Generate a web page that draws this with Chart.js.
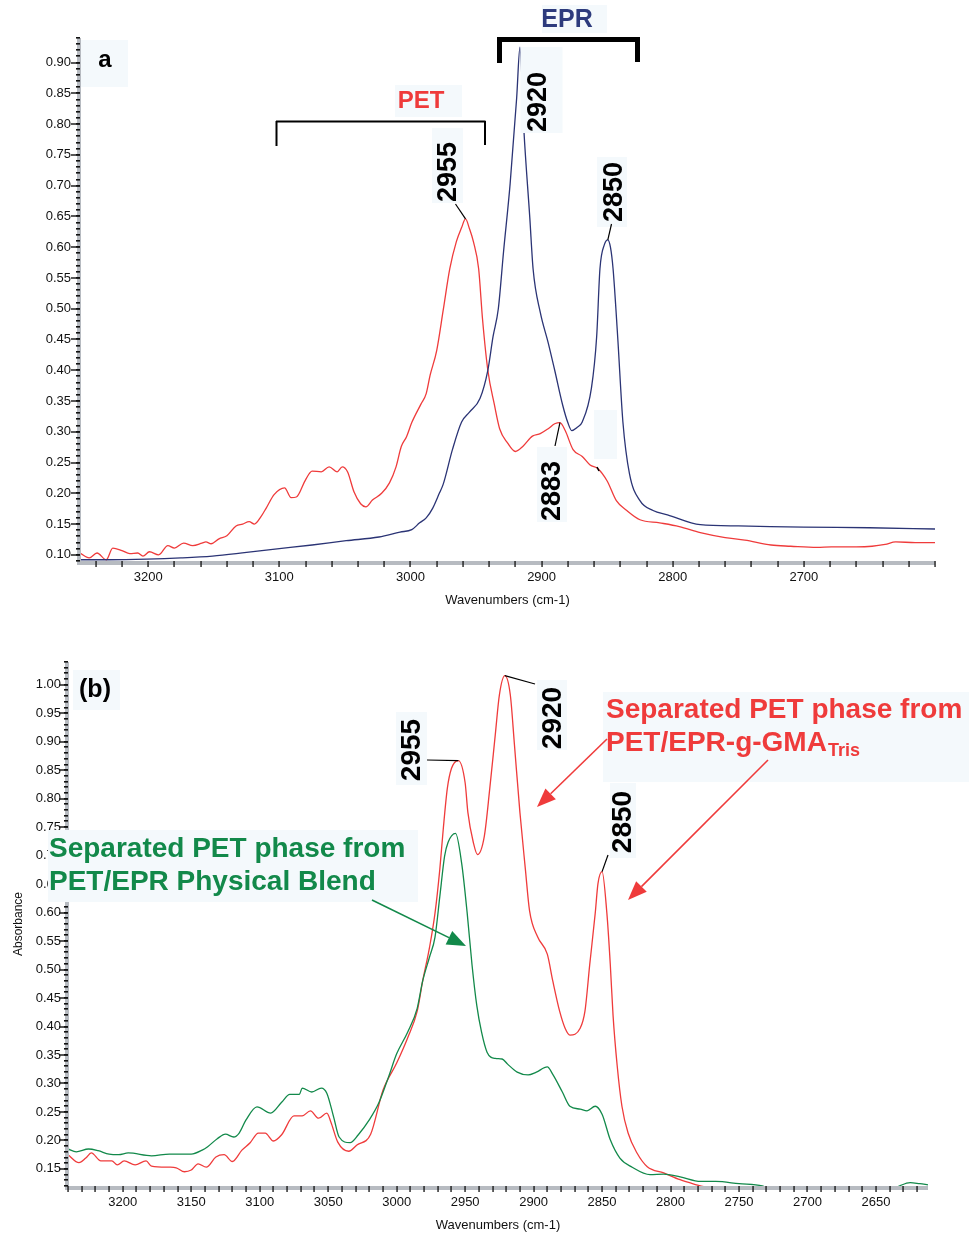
<!DOCTYPE html>
<html>
<head>
<meta charset="utf-8">
<script src="https://cdn.jsdelivr.net/npm/chart.js@4.4.1/dist/chart.umd.min.js"></script>
<style>
  html, body { margin: 0; padding: 0; background: #fff; }
  body { width: 969px; height: 1233px; position: relative; overflow: hidden; }
  canvas { position: absolute; left: 0; }
  #chartA { top: 0; }
  #chartB { top: 615px; }
</style>
</head>
<body>
<canvas id="chartA" width="969" height="615"></canvas>
<canvas id="chartB" width="969" height="618"></canvas>
<script>
// spectra (wavenumber, absorbance)

// panel a - PET
const petA_wn = [3252, 3245, 3239, 3232, 3227, 3220, 3214, 3208, 3204, 3199, 3192, 3185, 3180, 3173, 3166, 3159, 3156, 3152, 3146, 3140, 3133, 3128, 3123, 3119, 3114, 3110, 3104, 3096, 3091, 3087, 3080, 3075, 3068, 3062, 3056, 3052, 3048, 3043, 3038, 3034, 3029, 3022, 3016, 3011, 3007, 3003, 2999, 2992, 2988, 2985, 2980, 2975, 2970, 2965, 2961, 2958, 2955, 2952, 2948, 2945, 2941, 2936, 2932, 2926, 2920, 2914, 2907, 2901, 2895, 2890, 2886, 2882, 2876, 2869, 2863, 2857, 2850, 2843, 2835, 2825, 2810, 2795, 2779, 2760, 2745, 2725, 2710, 2690, 2679, 2660, 2648, 2638, 2630, 2615, 2600]
const petA_abs = [0.103, 0.095, 0.103, 0.092, 0.111, 0.107, 0.102, 0.103, 0.098, 0.105, 0.100, 0.115, 0.111, 0.119, 0.115, 0.119, 0.121, 0.118, 0.126, 0.131, 0.147, 0.150, 0.154, 0.150, 0.162, 0.176, 0.198, 0.209, 0.193, 0.194, 0.222, 0.236, 0.235, 0.243, 0.235, 0.243, 0.235, 0.202, 0.183, 0.178, 0.189, 0.200, 0.217, 0.243, 0.276, 0.292, 0.315, 0.345, 0.362, 0.392, 0.432, 0.498, 0.565, 0.609, 0.632, 0.646, 0.630, 0.609, 0.565, 0.482, 0.400, 0.344, 0.305, 0.282, 0.268, 0.277, 0.293, 0.297, 0.305, 0.313, 0.315, 0.302, 0.271, 0.260, 0.246, 0.240, 0.220, 0.188, 0.172, 0.157, 0.152, 0.146, 0.136, 0.128, 0.124, 0.116, 0.114, 0.112, 0.113, 0.113, 0.114, 0.117, 0.121, 0.120, 0.120]

// panel a - EPR
const eprA_wn = [3252, 3230, 3201, 3175, 3151, 3125, 3100, 3075, 3049, 3024, 3008, 2999, 2993, 2988, 2983, 2978, 2975, 2968, 2961, 2955, 2947, 2941, 2937, 2933, 2929, 2924, 2919, 2916.5, 2913.5, 2909, 2906.5, 2901, 2895, 2890, 2884, 2880, 2877, 2873, 2869, 2862, 2858, 2855.5, 2852, 2849.5, 2847.5, 2845.5, 2842, 2838, 2833, 2825, 2815, 2804, 2779, 2750, 2700, 2650, 2600]
const eprA_abs = [0.092, 0.092, 0.093, 0.095, 0.098, 0.104, 0.110, 0.116, 0.123, 0.129, 0.137, 0.141, 0.152, 0.160, 0.176, 0.200, 0.215, 0.271, 0.316, 0.332, 0.354, 0.400, 0.455, 0.500, 0.593, 0.703, 0.843, 0.925, 0.790, 0.648, 0.565, 0.494, 0.445, 0.400, 0.344, 0.315, 0.302, 0.307, 0.316, 0.371, 0.455, 0.565, 0.605, 0.612, 0.600, 0.565, 0.455, 0.316, 0.232, 0.188, 0.172, 0.165, 0.149, 0.147, 0.145, 0.144, 0.142]

// panel b - PET phase from PET/EPR-g-GMA(Tris)
const graftB_wn = [3240, 3232, 3227, 3223, 3216, 3208, 3204, 3199, 3191, 3183, 3179, 3166, 3161, 3155, 3150, 3145, 3139, 3132, 3126, 3120, 3113, 3107, 3101, 3096, 3090, 3084, 3075, 3069, 3063, 3057, 3051, 3048, 3043, 3035, 3029, 3019, 3010, 3000, 2992, 2985, 2981, 2976, 2972, 2968.5, 2966, 2963, 2960, 2955, 2950, 2948, 2944, 2941, 2936, 2932, 2928, 2925, 2921, 2917, 2914, 2910, 2906, 2903, 2897, 2890, 2886, 2881, 2877, 2873.5, 2866, 2862.5, 2859, 2855, 2853, 2850, 2846.5, 2844, 2842, 2839, 2835.5, 2831, 2824.5, 2817, 2805, 2793, 2781, 2772, 2760, 2740]
const graftB_abs = [0.175, 0.161, 0.169, 0.178, 0.164, 0.164, 0.157, 0.164, 0.157, 0.164, 0.155, 0.153, 0.152, 0.145, 0.148, 0.159, 0.153, 0.171, 0.175, 0.163, 0.183, 0.196, 0.213, 0.213, 0.199, 0.210, 0.243, 0.243, 0.252, 0.239, 0.248, 0.232, 0.197, 0.181, 0.192, 0.211, 0.288, 0.336, 0.380, 0.427, 0.480, 0.539, 0.599, 0.676, 0.746, 0.818, 0.853, 0.867, 0.828, 0.776, 0.723, 0.702, 0.734, 0.818, 0.912, 0.982, 1.016, 0.982, 0.895, 0.776, 0.676, 0.604, 0.557, 0.527, 0.480, 0.427, 0.397, 0.385, 0.397, 0.427, 0.509, 0.599, 0.651, 0.672, 0.599, 0.509, 0.420, 0.332, 0.260, 0.213, 0.178, 0.154, 0.143, 0.131, 0.122, 0.116, 0.100, 0.090]

// panel b - PET phase from PET/EPR physical blend
const blendB_wn = [3240, 3234, 3225, 3218, 3210, 3203, 3196, 3179, 3166, 3150, 3142, 3138, 3131, 3125, 3119, 3115, 3110, 3102, 3092, 3084, 3078, 3071, 3069, 3062, 3055, 3051, 3046, 3042, 3034, 3028, 3020, 3013, 3006, 3000, 2992, 2985, 2981, 2976, 2972, 2968.5, 2965, 2962.5, 2957, 2952.5, 2948.5, 2945, 2941.5, 2938, 2934, 2928, 2923, 2919, 2912, 2904, 2898, 2890, 2886, 2879, 2873.5, 2866, 2861, 2855, 2850, 2844, 2837, 2828, 2815, 2805, 2793, 2778, 2767, 2750, 2733, 2725, 2700, 2650, 2640, 2633, 2625, 2618, 2612]
const blendB_abs = [0.185, 0.180, 0.185, 0.182, 0.176, 0.175, 0.178, 0.173, 0.176, 0.176, 0.183, 0.189, 0.203, 0.211, 0.206, 0.213, 0.236, 0.259, 0.248, 0.267, 0.281, 0.281, 0.292, 0.285, 0.292, 0.283, 0.241, 0.206, 0.196, 0.210, 0.236, 0.266, 0.311, 0.352, 0.390, 0.432, 0.480, 0.522, 0.557, 0.628, 0.699, 0.723, 0.739, 0.686, 0.599, 0.509, 0.437, 0.390, 0.355, 0.344, 0.343, 0.334, 0.320, 0.315, 0.320, 0.329, 0.316, 0.285, 0.260, 0.255, 0.252, 0.260, 0.246, 0.201, 0.169, 0.153, 0.140, 0.141, 0.136, 0.128, 0.128, 0.124, 0.120, 0.112, 0.105, 0.105, 0.112, 0.120, 0.126, 0.124, 0.122]

// tick labels
const xTicksA = [3200, 3100, 3000, 2900, 2800, 2700]
const yTicksA = [0.10, 0.15, 0.20, 0.25, 0.30, 0.35, 0.40, 0.45, 0.50, 0.55, 0.60, 0.65, 0.70, 0.75, 0.80, 0.85, 0.90]
const xTicksB = [3200, 3150, 3100, 3050, 3000, 2950, 2900, 2850, 2800, 2750, 2700, 2650]
const yTicksB = [0.15, 0.20, 0.25, 0.30, 0.35, 0.40, 0.45, 0.50, 0.55, 0.60, 0.65, 0.70, 0.75, 0.80, 0.85, 0.90, 0.95, 1.00]

const FONT = '"Liberation Sans", Arial, sans-serif'
const RED = '#ef3b3b', NAVY = '#2b3475', GREEN = '#12894a'
Chart.defaults.font.family = FONT

const pts = (xs, ys) => xs.map((x, i) => ({ x: x, y: ys[i] }))

// gray axis bars with minor / major tick marks
const axisStyle = {
  id: 'axisStyle',
  afterDatasetsDraw(chart, args, opts) {
    const ctx = chart.ctx, a = chart.chartArea
    const xs = chart.scales.x, ys = chart.scales.y
    ctx.save()
    ctx.fillStyle = '#b7bbc1'
    ctx.fillRect(a.left - 3, a.top, 4, a.bottom - a.top + 4)
    ctx.fillRect(a.left - 3, a.bottom, a.right - a.left + 3, 4)
    ctx.fillStyle = '#111'
    for (let k = Math.ceil(ys.min * 100); k <= Math.floor(ys.max * 100 + 1e-6); k++) {
      const py = Math.round(ys.getPixelForValue(k / 100))
      ctx.fillRect(a.left - 4, py - 1, 4, 1.6)
    }
    ys.ticks.forEach(t => {
      const py = Math.round(ys.getPixelForValue(t.value))
      ctx.fillRect(a.left - 9, py - 0.7, 9, 1.4)
    })
    const st = opts.xMinor
    for (let v = Math.ceil(xs.min / st) * st; v <= xs.max; v += st) {
      const px = Math.round(xs.getPixelForValue(v))
      ctx.fillRect(px - 0.6, a.bottom, 1.3, 6)
    }
    ctx.restore()
  }
}

// small drawing helpers for the annotations
function pale(ctx, x, y, w, h) {
  ctx.fillStyle = '#f4f9fc'
  ctx.fillRect(x, y, w, h)
}
function text(ctx, s, x, y, font, color, align) {
  ctx.font = font
  ctx.fillStyle = color
  ctx.textAlign = align || 'center'
  ctx.textBaseline = 'middle'
  ctx.fillText(s, x, y)
}
function vtext(ctx, s, x, y, font) {
  ctx.save()
  ctx.translate(x, y)
  ctx.rotate(-Math.PI / 2)
  text(ctx, s, 0, 0, font, '#000')
  ctx.restore()
}
function seg(ctx, x1, y1, x2, y2, w, color) {
  ctx.strokeStyle = color || '#000'
  ctx.lineWidth = w
  ctx.beginPath()
  ctx.moveTo(x1, y1)
  ctx.lineTo(x2, y2)
  ctx.stroke()
}
function arrow(ctx, x1, y1, x2, y2, color) {
  const ang = Math.atan2(y2 - y1, x2 - x1), hl = 19, hw = 7.5
  const bx = x2 - hl * Math.cos(ang), by = y2 - hl * Math.sin(ang)
  seg(ctx, x1, y1, bx, by, 1.6, color)
  ctx.fillStyle = color
  ctx.beginPath()
  ctx.moveTo(x2, y2)
  ctx.lineTo(bx + hw * Math.sin(ang), by - hw * Math.cos(ang))
  ctx.lineTo(bx - hw * Math.sin(ang), by + hw * Math.cos(ang))
  ctx.closePath()
  ctx.fill()
}

const notesA = {
  id: 'notesA',
  afterDraw(chart) {
    const ctx = chart.ctx, xs = chart.scales.x, ys = chart.scales.y
    const at = (wn, v) => [xs.getPixelForValue(wn), ys.getPixelForValue(v)]
    ctx.save()
    pale(ctx, 81, 40, 47, 47)
    pale(ctx, 395, 85, 67, 32)
    pale(ctx, 542, 5, 65, 28)
    pale(ctx, 432, 128, 31, 75)
    pale(ctx, 520.5, 47, 42, 86)
    pale(ctx, 597, 157, 30, 70)
    pale(ctx, 537, 447, 30, 75)
    pale(ctx, 594, 410, 23, 49)

    text(ctx, 'a', 105, 60, 'bold 24px ' + FONT, '#000')
    text(ctx, 'PET', 421, 101, 'bold 24px ' + FONT, RED)
    text(ctx, 'EPR', 567, 20, 'bold 25px ' + FONT, '#2d3b7d')

    // PET bracket
    ctx.lineCap = 'butt'
    seg(ctx, 276, 121.5, 485.5, 121.5, 2)
    seg(ctx, 276.5, 121, 276.5, 146, 2)
    seg(ctx, 485, 121, 485, 145, 2)
    // EPR bracket
    ctx.fillStyle = '#000'
    ctx.fillRect(497, 37, 143, 5)
    ctx.fillRect(497, 37, 5, 26)
    ctx.fillRect(635, 37, 5, 25)

    const f = 'bold 27px ' + FONT
    vtext(ctx, '2955', 449, 172, f)
    vtext(ctx, '2920', 539, 102, f)
    vtext(ctx, '2850', 615, 192, f)
    vtext(ctx, '2883', 553, 491, f)

    let p = at(2958, 0.646)
    seg(ctx, 455.5, 204, p[0], p[1], 1.2)
    p = at(2849.5, 0.612)
    seg(ctx, 611.5, 224, p[0], p[1], 1.2)
    p = at(2886, 0.315)
    seg(ctx, 555, 446, p[0], p[1], 1.2)
    seg(ctx, 597, 467, 599, 471, 1.5)
    ctx.restore()
  }
}

const notesB = {
  id: 'notesB',
  afterDraw(chart) {
    const ctx = chart.ctx, xs = chart.scales.x, ys = chart.scales.y
    const at = (wn, v) => [xs.getPixelForValue(wn), ys.getPixelForValue(v) + 615]
    ctx.save()
    ctx.translate(0, -615)
    pale(ctx, 73, 670, 47, 40)
    pale(ctx, 396, 712, 31, 73)
    pale(ctx, 537, 680, 30, 70)
    pale(ctx, 610, 783, 26, 75)
    pale(ctx, 603, 692, 366, 90)
    pale(ctx, 48, 830, 370, 72)

    text(ctx, '(b)', 95, 690, 'bold 25px ' + FONT, '#000')

    const f = 'bold 28px ' + FONT
    vtext(ctx, '2955', 412, 750, f)
    vtext(ctx, '2920', 553, 718, f)
    vtext(ctx, '2850', 623, 822, f)

    let p = at(2955, 0.867)
    seg(ctx, 427, 760, p[0], p[1], 1.2)
    p = at(2921, 1.016)
    seg(ctx, 535, 684, p[0], p[1], 1.2)
    p = at(2850, 0.672)
    seg(ctx, 608, 855, p[0], p[1], 1.2)

    // red caption
    ctx.font = 'bold 28px ' + FONT
    ctx.fillStyle = RED
    ctx.textAlign = 'left'
    ctx.textBaseline = 'alphabetic'
    ctx.fillText('Separated PET phase from', 606, 718)
    ctx.fillText('PET/EPR-g-GMA', 606, 751)
    const w = ctx.measureText('PET/EPR-g-GMA').width
    ctx.font = 'bold 18px ' + FONT
    ctx.fillText('Tris', 606 + w + 1, 756)

    // green caption
    ctx.font = 'bold 28px ' + FONT
    ctx.fillStyle = GREEN
    ctx.fillText('Separated PET phase from', 49, 857)
    ctx.fillText('PET/EPR Physical Blend', 49, 890)

    arrow(ctx, 607, 739, 537, 807, RED)
    arrow(ctx, 768, 760, 628, 900, RED)
    arrow(ctx, 372, 900, 466, 946, GREEN)
    ctx.restore()
  }
}

function spectrumChart(id, datasets, xr, yr, xTicks, yTicks, box, notes) {
  return new Chart(document.getElementById(id), {
    type: 'line',
    data: { datasets: datasets },
    options: {
      responsive: false,
      animation: false,
      events: [],
      layout: { padding: { left: 0, top: box.top, right: box.right, bottom: 0 } },
      elements: {
        point: { radius: 0 },
        line: { borderWidth: 1.3, cubicInterpolationMode: 'monotone' }
      },
      plugins: {
        legend: { display: false },
        tooltip: { enabled: false },
        axisStyle: { xMinor: box.xMinor }
      },
      scales: {
        x: {
          type: 'linear', reverse: true, min: xr[0], max: xr[1],
          grid: { display: false, drawTicks: false },
          border: { display: false },
          afterBuildTicks: s => { s.ticks = xTicks.map(v => ({ value: v })) },
          afterFit: s => { s.height = box.xh },
          ticks: { padding: 9, maxRotation: 0, autoSkip: false, color: '#111', font: { size: 13 }, callback: v => String(v) },
          title: { display: true, text: 'Wavenumbers (cm-1)', color: '#111', font: { size: 13 }, padding: { top: 0, bottom: box.tb } }
        },
        y: {
          type: 'linear', min: yr[0], max: yr[1],
          grid: { display: false, drawTicks: false },
          border: { display: false },
          afterBuildTicks: s => { s.ticks = yTicks.map(v => ({ value: v })) },
          afterFit: s => { s.width = box.yw },
          ticks: { padding: box.yp, autoSkip: false, color: '#111', font: { size: 13 }, callback: v => v.toFixed(2) },
          title: { display: box.ytitle, text: 'Absorbance', color: '#111', font: { size: 12 }, padding: { top: 11, bottom: 0 } }
        }
      }
    },
    plugins: [axisStyle, notes]
  })
}

spectrumChart('chartA', [
  { data: pts(eprA_wn, eprA_abs), borderColor: NAVY },
  { data: pts(petA_wn, petA_abs), borderColor: RED }
], [2600, 3252], [0.09, 0.94], xTicksA, yTicksA,
  { top: 38, right: 34, xh: 54, tb: 7, yw: 80, yp: 9, xMinor: 20, ytitle: false }, notesA)

spectrumChart('chartB', [
  { data: pts(blendB_wn, blendB_abs), borderColor: GREEN },
  { data: pts(graftB_wn, graftB_abs), borderColor: RED }
], [2612, 3240], [0.12, 1.04], xTicksB, yTicksB,
  { top: 47, right: 41, xh: 47, tb: 0, yw: 68, yp: 7, xMinor: 10, ytitle: true }, notesB)
</script>
</body>
</html>
